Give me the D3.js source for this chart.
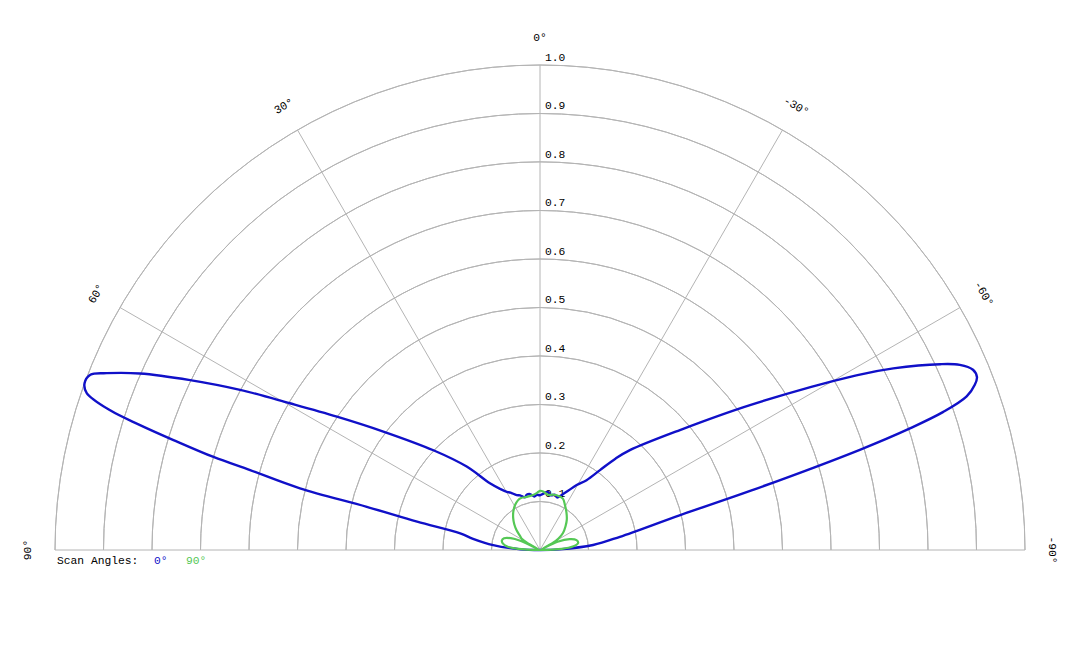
<!DOCTYPE html>
<html>
<head>
<meta charset="utf-8">
<script src="https://cdn.jsdelivr.net/npm/d3@7"></script>
<style>
  html, body { margin: 0; padding: 0; background: #fff; }
  svg { display: block; }
  text { font-family: "Liberation Mono", "Courier New", monospace; font-size: 11.3px; fill: #000; }
</style>
</head>
<body>
<svg id="chart" width="1080" height="648"></svg>
<script>
// ---- data (angle in degrees, positive = left of vertical; value = normalised amplitude) ----
const radialTicks = [0.1, 0.2, 0.3, 0.4, 0.5, 0.6, 0.7, 0.8, 0.9, 1.0];
const radialTickLabels = ["0.1", "0.2", "0.3", "0.4", "0.5", "0.6", "0.7", "0.8", "0.9", "1.0"];
const angleTicks = [90, 60, 30, 0, -30, -60, -90];
const angleTickLabels = ["90°", "60°", "30°", "0°", "-30°", "-60°", "-90°"];
const seriesNames = ["0°", "90°"];
const seriesColors = ["#1010c8", "#55c855"];

const blueAngles = [90, 88, 84, 80.5, 78.2, 77, 76, 75.6, 74.6, 74.1, 73.3, 72.65, 72, 70.9, 69.9, 68.7, 67.8, 66.2, 64.1, 61.9, 59.6, 56.7, 52.9, 46.9, 41.3, 36.9, 33, 29.7, 27.2, 23, 20, 16, 13.6, 10, 6, 3.4, 0, -3, -7.8, -11, -15.3, -18, -21.5, -25.4, -29.4, -33.7, -36.9, -39.6, -42, -49.4, -55.4, -61.1, -62.8, -65.1, -66.2, -67.4, -68.4, -69.2, -70.2, -71.1, -71.8, -72.6, -74.3, -76, -80.6, -84.6, -88, -90];
const blueValues = [0.0, 0.04, 0.097, 0.14, 0.168, 0.26, 0.368, 0.511, 0.62, 0.70, 0.789, 0.864, 0.932, 0.989, 1.0, 0.995, 0.965, 0.902, 0.802, 0.701, 0.598, 0.501, 0.405, 0.301, 0.229, 0.172, 0.15, 0.138, 0.133, 0.123, 0.12, 0.113, 0.117, 0.117, 0.111, 0.114, 0.113, 0.116, 0.121, 0.115, 0.118, 0.114, 0.122, 0.135, 0.154, 0.173, 0.206, 0.245, 0.277, 0.38, 0.526, 0.745, 0.819, 0.91, 0.946, 0.967, 0.969, 0.959, 0.935, 0.879, 0.803, 0.691, 0.45, 0.298, 0.167, 0.11, 0.04, 0.0];

const greenAngles = [90, 87, 84, 80, 76, 72, 68, 65, 63, 61, 58, 55, 50, 45, 40, 35, 29, 24, 20, 14, 8, 3, 0, -3, -8, -13, -17, -24, -29, -35, -41.7, -47, -53.5, -58, -61, -63, -65, -70, -74.8, -79.5, -84, -87, -90];
const greenValues = [0.0, 0.045, 0.068, 0.078, 0.081, 0.078, 0.065, 0.045, 0.005, 0.03, 0.045, 0.05, 0.063, 0.075, 0.086, 0.096, 0.106, 0.112, 0.114, 0.113, 0.114, 0.118, 0.122, 0.121, 0.115, 0.117, 0.118, 0.116, 0.106, 0.095, 0.083, 0.072, 0.059, 0.045, 0.03, 0.005, 0.04, 0.065, 0.078, 0.08, 0.068, 0.045, 0.0];

// ---- layout ----
const svg = d3.select("#chart");
const cx = 540, cy = 550, R = 485;
const g = svg.append("g").attr("transform", `translate(${cx},${cy})`);

const rScale = d3.scaleLinear().domain([0, 1]).range([0, R]);
// positive degrees go counter-clockwise (to the left) from the top
const aScale = d3.scaleLinear().domain([-90, 90]).range([Math.PI / 2, -Math.PI / 2]);

const gridColor = "#b4b4b4";

// rings
const arc = d3.arc().startAngle(-Math.PI / 2).endAngle(Math.PI / 2);
g.selectAll("path.ring").data(radialTicks).enter().append("path")
  .attr("class", "ring")
  .attr("d", d => arc({ innerRadius: rScale(d), outerRadius: rScale(d) }))
  .attr("fill", "none").attr("stroke", gridColor).attr("stroke-width", 1);

// spokes
g.selectAll("line.spoke").data(angleTicks).enter().append("line")
  .attr("class", "spoke")
  .attr("x1", 0).attr("y1", 0)
  .attr("x2", d => rScale(1) * Math.sin(aScale(d)))
  .attr("y2", d => -rScale(1) * Math.cos(aScale(d)))
  .attr("stroke", gridColor).attr("stroke-width", 1);

// radial tick labels
g.selectAll("text.rtick").data(radialTicks).enter().append("text")
  .attr("class", "rtick")
  .attr("x", 5)
  .attr("y", d => -rScale(d) - 4.5)
  .text((d, i) => radialTickLabels[i]);

// angle labels
const labelR = R + 28;
g.selectAll("text.atick").data(angleTicks).enter().append("text")
  .attr("class", "atick")
  .attr("text-anchor", "middle")
  .attr("dy", "0.35em")
  .attr("transform", d => {
    const a = aScale(d);
    const x = labelR * Math.sin(a), y = -labelR * Math.cos(a);
    return `translate(${x},${y}) rotate(${-d})`;
  })
  .text((d, i) => angleTickLabels[i]);

// series
const line = d3.lineRadial()
  .angle(d => aScale(d[0]))
  .radius(d => rScale(d[1]))
  .curve(d3.curveCatmullRom.alpha(0.5));

const blueData = blueAngles.map((a, i) => [a, blueValues[i]]);
const greenData = greenAngles.map((a, i) => [a, greenValues[i]]);

g.append("path").datum(blueData)
  .attr("d", line).attr("fill", "none")
  .attr("stroke", seriesColors[0]).attr("stroke-width", 2.4)
  .attr("stroke-linejoin", "round");

g.append("path").datum(greenData)
  .attr("d", line).attr("fill", "none")
  .attr("stroke", seriesColors[1]).attr("stroke-width", 2.2)
  .attr("stroke-linejoin", "round");

// legend
const legend = svg.append("g");
legend.append("text").attr("x", 57).attr("y", 564).text("Scan Angles:");
legend.append("text").attr("x", 154).attr("y", 564).style("fill", seriesColors[0]).text(seriesNames[0]);
legend.append("text").attr("x", 186).attr("y", 564).style("fill", seriesColors[1]).text(seriesNames[1]);
</script>
</body>
</html>
